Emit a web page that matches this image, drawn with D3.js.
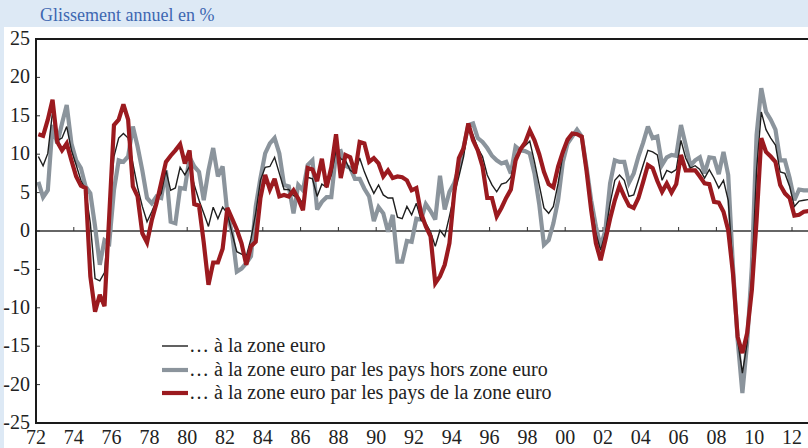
<!DOCTYPE html>
<html>
<head>
<meta charset="utf-8">
<script src="https://cdn.jsdelivr.net/npm/d3@7"></script>
<style>
  body { margin: 0; background: #dde9f5; }
  svg { display: block; }
  text { font-family: "Liberation Serif", "DejaVu Serif", serif; }
</style>
</head>
<body>
<svg id="chart" width="808" height="448"></svg>
<script>
// quarterly data, 1972Q1 .. 2012Q4 (glissement annuel en %)
var startYear = 1972;

var zoneEuro = [
  9.7, 8.5, 10.1, 15.5, 11.8, 12.1, 13.6, 10.5, 8.6, 6.6, 5.3, 1.0, -6.2, -6.5, -5.4, 2.5,
  9.7, 12.1, 12.7, 12.1, 8.8, 5.7, 3.2, 1.2, 2.5, 4.0, 4.9, 7.9, 5.3, 5.6, 8.3, 7.3,
  8.4, 6.0, 4.0, 2.3, 0.6, 3.1, 1.6, 3.1, 2.3, -0.3, -2.7, -3.0, -3.3, -1.0, 2.3, 6.6,
  8.3, 8.4, 9.6, 7.5, 5.4, 5.4, 4.6, 4.4, 3.6, 7.0, 6.8, 4.5, 6.1, 5.7, 7.3, 10.5,
  9.4, 9.2, 7.9, 7.5, 9.5, 7.7, 6.2, 4.9, 6.0, 4.7, 4.3, 4.3, 1.8, 1.6, 3.2, 2.1,
  3.6, 1.4, 1.0, -0.1, -2.0, 0.1, -0.7, 1.9, 4.7, 7.1, 9.7, 13.8, 12.5, 10.8, 9.7, 7.3,
  6.0, 5.1, 6.1, 6.3, 7.0, 9.6, 10.6, 11.1, 11.7, 9.0, 6.0, 3.0, 2.3, 3.2, 6.2, 9.9,
  11.6, 12.5, 12.7, 12.3, 7.9, 3.6, -0.3, -2.5, -0.3, 3.6, 6.6, 7.3, 6.6, 4.5, 4.7, 6.6,
  8.6, 10.5, 10.3, 9.9, 6.6, 7.9, 7.6, 8.0, 11.8, 9.5, 8.2, 8.5, 8.0, 6.9, 8.0, 6.9,
  5.6, 6.6, 4.0, -4.6, -14.2, -18.5, -14.6, -5.9, 7.9, 15.5, 13.2, 12.1, 11.2, 7.7, 7.5, 5.8,
  3.2, 3.9, 4.0, 4.1
];

var horsZone = [
  6.4, 4.4, 5.3, 13.8, 11.4, 14.0, 16.4, 11.4, 9.2, 8.2, 5.8, 4.9, 0.6, -4.4, -1.2, -1.6,
  5.3, 9.2, 9.0, 9.7, 13.6, 11.0, 7.9, 4.3, 3.6, 4.5, 4.3, 7.9, 1.2, 1.0, 5.6, 5.5,
  9.6, 8.4, 7.7, 4.0, 7.9, 10.8, 7.1, 8.4, 2.3, -0.3, -5.3, -4.9, -4.2, -3.3, 3.2, 6.9,
  10.1, 11.4, 12.1, 10.1, 6.0, 5.8, 2.3, 6.0, 5.3, 8.6, 9.2, 2.8, 3.8, 4.4, 4.4, 10.2,
  10.4, 8.5, 8.2, 6.8, 6.8, 5.5, 4.5, 1.3, 3.1, 2.3, -0.1, 2.1, -4.0, -4.0, -1.3, -1.4,
  1.6, 1.5, 3.5, 2.6, 1.5, 7.2, 2.8, 5.1, 6.2, 8.2, 10.9, 13.8, 14.0, 12.1, 11.6, 10.8,
  9.8, 9.2, 8.8, 9.0, 7.5, 11.0, 10.5, 10.4, 10.1, 7.5, 3.5, -1.8, -1.2, 1.0, 4.0, 9.0,
  11.4, 12.3, 13.2, 12.3, 8.4, 4.0, 0.6, -2.0, 0.1, 6.2, 9.2, 9.0, 9.0, 6.3, 7.5, 9.7,
  11.5, 13.6, 12.1, 12.3, 8.6, 9.6, 9.9, 9.8, 13.8, 11.2, 8.5, 9.2, 9.6, 7.5, 9.6, 9.5,
  7.4, 10.3, 7.3, -4.6, -14.2, -21.1, -14.6, -4.6, 12.5, 18.6, 15.5, 14.5, 13.2, 9.2, 9.2, 6.9,
  4.0, 5.4, 5.3, 5.3
];

var dansZone = [
  12.6, 12.4, 14.5, 17.1, 11.6, 10.5, 11.4, 9.2, 7.1, 5.9, 5.6, -5.9, -10.5, -8.3, -9.8, 2.0,
  13.8, 14.5, 16.5, 14.5, 5.8, 4.5, -0.3, -1.5, 1.4, 3.6, 6.3, 9.0, 9.8, 10.5, 11.3, 8.8,
  10.5, 3.5, 3.3, -1.5, -7.0, -4.1, -4.1, -2.3, 3.0, 1.6, 0.2, -1.6, -4.4, -2.0, -1.4, 4.3,
  7.3, 5.4, 6.8, 4.5, 4.7, 4.5, 5.3, 4.2, 2.7, 8.2, 8.0, 6.5, 9.4, 5.7, 8.3, 12.6,
  6.9, 9.9, 9.6, 7.5, 11.6, 11.4, 9.0, 9.5, 8.8, 7.1, 7.9, 6.9, 7.1, 7.0, 6.6, 5.3,
  5.6, 2.3, 0.6, -0.7, -6.8, -5.9, -4.4, -1.6, 4.9, 9.5, 10.8, 14.0, 11.8, 10.5, 8.4, 4.3,
  4.3, 1.9, 3.0, 4.3, 5.4, 9.2, 10.6, 11.5, 13.1, 11.8, 10.0, 7.7, 6.1, 5.7, 8.4, 10.3,
  11.9, 12.7, 12.6, 12.3, 7.9, 2.7, -1.6, -3.8, -1.2, 1.6, 4.0, 5.9, 4.5, 3.3, 3.0, 4.3,
  6.4, 8.6, 8.2, 6.5, 5.1, 6.2, 5.0, 6.1, 9.9, 7.9, 7.9, 7.9, 7.1, 6.2, 6.1, 3.8,
  3.7, 2.5, 0.1, -5.5, -13.8, -15.9, -13.3, -7.7, 1.4, 12.1, 10.3, 9.7, 9.0, 6.0, 4.9, 4.3,
  2.0, 2.1, 2.5, 2.6
];

var xTickYears = d3.range(1972, 2013, 2);
var xTickLabels = ["72","74","76","78","80","82","84","86","88","90","92","94","96","98","00","02","04","06","08","10","12"];
var yTicks = [-25, -20, -15, -10, -5, 0, 5, 10, 15, 20, 25];

var legendLabels = [
  "\u2026 \u00e0 la zone euro",
  "\u2026 \u00e0 la zone euro par les pays hors zone euro",
  "\u2026 \u00e0 la zone euro par les pays de la zone euro"
];

var W = 808, H = 448;
var mLeft = 36, mRight = 792, mTop = 39, mBottom = 423;

var svg = d3.select("#chart");

// panels
svg.append("rect").attr("x", 0).attr("y", 0).attr("width", W).attr("height", H).attr("fill", "#dde9f5");
svg.append("rect").attr("x", 4).attr("y", 27).attr("width", W - 4).attr("height", H - 27).attr("fill", "#ffffff");

svg.append("text")
    .attr("x", 40).attr("y", 21)
    .attr("fill", "#3e67b1")
    .style("font-size", "18px")
    .text("Glissement annuel en %");

var x = d3.scaleLinear().domain([1972, 2012]).range([mLeft, mRight]);
var y = d3.scaleLinear().domain([-25, 25]).range([mBottom, mTop]);

function qDate(i) { return startYear + (i + 0.5) / 4; }

// zero line + small ticks on it
svg.append("line")
    .attr("x1", mLeft).attr("x2", W).attr("y1", y(0)).attr("y2", y(0))
    .attr("stroke", "#333").attr("stroke-width", 1.4);

svg.selectAll(".xt").data(xTickYears.slice(1)).enter().append("line")
    .attr("x1", d => x(d)).attr("x2", d => x(d))
    .attr("y1", y(0)).attr("y2", y(0) - 4)
    .attr("stroke", "#333").attr("stroke-width", 1);

// y ticks inside
svg.selectAll(".yt").data(yTicks).enter().append("line")
    .attr("x1", mLeft).attr("x2", mLeft + 4)
    .attr("y1", d => y(d)).attr("y2", d => y(d))
    .attr("stroke", "#333").attr("stroke-width", 1);

var line = d3.line()
    .x((d, i) => x(qDate(i)))
    .y(d => y(d));

var series = [
  { data: horsZone, color: "#8b949c", width: 4.2 },
  { data: zoneEuro, color: "#1e1e1e", width: 1.4 },
  { data: dansZone, color: "#9b1a1f", width: 4.2 }
];

series.forEach(s => {
  svg.append("path")
      .datum(s.data)
      .attr("d", line)
      .attr("fill", "none")
      .attr("stroke", s.color)
      .attr("stroke-width", s.width)
      .attr("stroke-linejoin", "miter")
      .attr("stroke-miterlimit", 3);
});

// frame
svg.append("line").attr("x1", mLeft).attr("x2", W).attr("y1", mTop).attr("y2", mTop)
    .attr("stroke", "#1a1a1a").attr("stroke-width", 2);
svg.append("line").attr("x1", mLeft).attr("x2", W).attr("y1", mBottom).attr("y2", mBottom)
    .attr("stroke", "#1a1a1a").attr("stroke-width", 2);
svg.append("line").attr("x1", mLeft).attr("x2", mLeft).attr("y1", mTop - 1).attr("y2", mBottom + 1)
    .attr("stroke", "#1a1a1a").attr("stroke-width", 2);

// tick labels
svg.selectAll(".yl").data(yTicks).enter().append("text")
    .attr("x", 30).attr("y", d => y(d) + 6)
    .attr("text-anchor", "end")
    .attr("fill", "#222")
    .style("font-size", "20px")
    .text(d => d);

svg.selectAll(".xl").data(xTickYears).enter().append("text")
    .attr("x", d => x(d)).attr("y", 444)
    .attr("text-anchor", "middle")
    .attr("fill", "#222")
    .style("font-size", "20px")
    .text((d, i) => xTickLabels[i]);

// legend
var legY = [346, 370, 393];
var legSeries = [series[1], series[0], series[2]];
legSeries.forEach((s, i) => {
  svg.append("line")
      .attr("x1", 162).attr("x2", 188)
      .attr("y1", legY[i]).attr("y2", legY[i])
      .attr("stroke", s.color).attr("stroke-width", s.width);
  svg.append("text")
      .attr("x", 189).attr("y", legY[i] + 6)
      .attr("fill", "#222")
      .style("font-size", "20px")
      .text(legendLabels[i]);
});
</script>
</body>
</html>
